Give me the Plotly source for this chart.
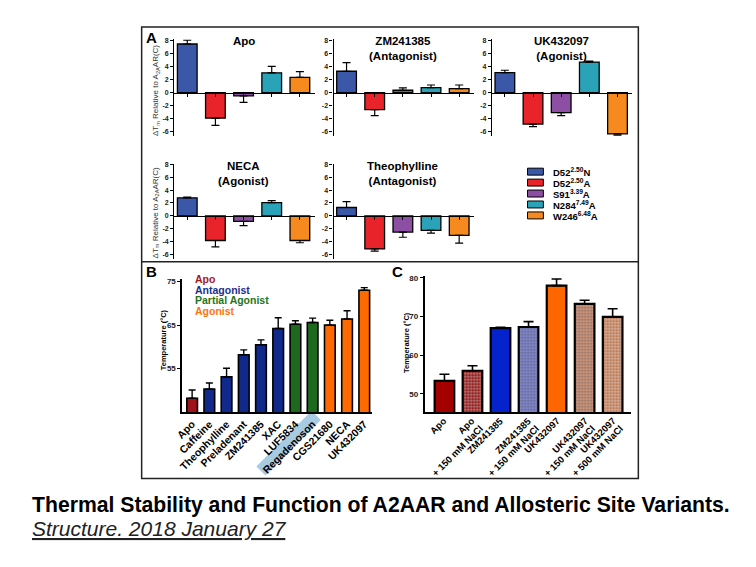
import plotly.graph_objects as go

W, H = 756, 567

# ---------------- data ----------------
mutants = ["D52<sup>2.50</sup>N", "D52<sup>2.50</sup>A", "S91<sup>3.39</sup>A",
           "N284<sup>7.49</sup>A", "W246<sup>6.48</sup>A"]
mutant_colors = ["#3B57A7", "#E8232A", "#8C4FA3", "#2AA3B8", "#F68A1F"]

a_titles = ["Apo", "ZM241385<br>(Antagonist)", "UK432097<br>(Agonist)",
            "NECA<br>(Agonist)", "Theophylline<br>(Antagonist)"]
apo_dtm = [7.4, -3.9, -0.5, 3.0, 2.3]
apo_err = [0.6, 1.1, 1.0, 1.0, 0.9]
zm_dtm = [3.25, -2.6, 0.35, 0.75, 0.6]
zm_err = [1.3, 0.9, 0.35, 0.4, 0.55]
uk_dtm = [3.05, -4.8, -3.05, 4.65, -6.3]
uk_err = [0.35, 0.4, 0.45, 0.15, 0.2]
neca_dtm = [2.8, -3.8, -0.85, 2.05, -3.8]
neca_err = [0.1, 1.0, 0.65, 0.3, 0.35]
theo_dtm = [1.3, -5.1, -2.5, -2.25, -3.0]
theo_err = [0.9, 0.35, 0.8, 0.4, 1.2]
a_ticks = [-6, -4, -2, 0, 2, 4, 6, 8]

b_ligands = ["Apo", "Caffeine", "Theophylline", "Preladenant", "ZM241385", "XAC",
             "LUF5834", "Regadenoson", "CGS21680", "NECA", "UK432097"]
b_class = ["Apo", "Antagonist", "Antagonist", "Antagonist", "Antagonist", "Antagonist",
           "Partial Agonist", "Partial Agonist", "Agonist", "Agonist", "Agonist"]
b_tm = [48.2, 50.3, 53.1, 58.2, 60.5, 64.2, 65.2, 65.6, 65.0, 66.4, 73.0]
b_err = [1.9, 1.4, 2.0, 1.1, 1.1, 2.5, 0.8, 1.0, 1.1, 1.9, 0.6]
class_names = ["Apo", "Antagonist", "Partial Agonist", "Agonist"]
class_colors = {"Apo": "#A0121A", "Antagonist": "#11298B",
                "Partial Agonist": "#1D6A1F", "Agonist": "#FF6A00"}
class_text_colors = {"Apo": "#A8151E", "Antagonist": "#1A2F8E",
                     "Partial Agonist": "#1F7420", "Agonist": "#FF7410"}
b_ticks = [55, 65, 75]
highlighted = "Regadenoson"

c_ligands = ["Apo", "Apo", "ZM241385", "ZM241385", "UK432097", "UK432097", "UK432097"]
c_salt = ["", "+ 150 mM NaCl", "", "+ 150 mM NaCl", "", "+ 150 mM NaCl", "+ 500 mM NaCl"]
c_tm = [53.4, 56.0, 67.0, 67.3, 78.0, 73.3, 69.9]
c_err = [1.7, 1.3, 0.2, 1.4, 1.7, 0.9, 2.1]
c_colors = ["#A30000", "#840404", "#0523CC", "#8890DE", "#FF6600", "#E0A084", "#B46E48"]
c_pattern_fg = ["", "#B81A1A", "", "#5C6BD0", "", "#CE8A6C", "#9A5838"]
c_ticks = [50, 60, 70, 80]

# ---------------- helpers ----------------
def xd(a, b):
    return [a / W, b / W]

def yd(top, bot):
    return [1 - bot / H, 1 - top / H]

def px(x):
    return x / W

def py(y):
    return 1 - y / H

FONT = "Liberation Sans, Arial, sans-serif"
fig = go.Figure()

# ---------------- panel A ----------------
a_vals = [apo_dtm, zm_dtm, uk_dtm, neca_dtm, theo_dtm]
a_errs = [apo_err, zm_err, uk_err, neca_err, theo_err]
a_xr = [-0.46, 4.53]
a_yr = [-6.6, 8.1]
col_x0 = [160, 321, 481]
col_w = 142
row_zero = [82, 206]
row_ppu = [6.6, 6.5]
cells = [(0, 0), (0, 1), (0, 2), (1, 0), (1, 1)]

layout_axes = {}
for p, (r, c) in enumerate(cells):
    k = p + 1
    xa = "x" if k == 1 else f"x{k}"
    ya = "y" if k == 1 else f"y{k}"
    vals, errs = a_vals[p], a_errs[p]
    up = [e if v >= 0 else 0 for v, e in zip(vals, errs)]
    dn = [e if v < 0 else 0 for v, e in zip(vals, errs)]
    fig.add_trace(go.Bar(
        x=list(range(len(mutants))), y=vals, xaxis=xa, yaxis=ya, width=0.7,
        marker=dict(color=mutant_colors, line=dict(color="black", width=1.3)),
        error_y=dict(type="data", array=up, arrayminus=dn, symmetric=False,
                     color="black", thickness=1.2, width=4),
        showlegend=False, hoverinfo="skip"))
    top = row_zero[r] - a_yr[1] * row_ppu[r]
    bot = row_zero[r] - a_yr[0] * row_ppu[r]
    x0 = col_x0[c]
    layout_axes["xaxis" if k == 1 else f"xaxis{k}"] = dict(
        domain=xd(x0, x0 + col_w), range=a_xr, anchor="free", position=py(row_zero[r]),
        showline=True, linecolor="black", linewidth=1.3, ticks="outside", ticklen=3,
        tickcolor="black", tickvals=list(range(5)), showticklabels=False,
        showgrid=False, zeroline=False, fixedrange=True)
    layout_axes["yaxis" if k == 1 else f"yaxis{k}"] = dict(
        domain=yd(top, bot), range=a_yr, anchor=xa, showline=True, linecolor="black",
        linewidth=1.3, ticks="outside", ticklen=3, tickcolor="black",
        tickvals=a_ticks, ticktext=[str(t) for t in a_ticks],
        tickfont=dict(size=7, family=FONT, weight="bold", color="#222"),
        showgrid=False, zeroline=False, fixedrange=True)

# ---------------- panel B ----------------
b_xr = [-0.575, 10.46]
b_yr = [45, 75.5]
b_x0, b_x1 = 168, 360
fig.add_trace(go.Bar(
    x=list(range(len(b_ligands))), y=b_tm, xaxis="x6", yaxis="y6", width=0.62,
    marker=dict(color=[class_colors[c] for c in b_class], line=dict(color="black", width=1.6)),
    error_y=dict(type="data", array=b_err, arrayminus=[0] * len(b_err), symmetric=False,
                 color="black", thickness=1.4, width=3.5),
    showlegend=False, hoverinfo="skip"))
layout_axes["xaxis6"] = dict(domain=xd(b_x0, b_x1), range=b_xr, anchor="y6", showline=True,
                             linecolor="black", linewidth=1.6, ticks="",
                             tickvals=list(range(len(b_ligands))), ticktext=b_ligands,
                             tickangle=-45,
                             tickfont=dict(size=10.5, family=FONT, weight="bold", color="black"),
                             showgrid=False, zeroline=False, fixedrange=True)
layout_axes["yaxis6"] = dict(domain=yd(269.8, 403.3), range=b_yr, anchor="x6", showline=True,
                             linecolor="black", linewidth=1.6, ticks="outside", ticklen=3,
                             tickcolor="black", tickvals=b_ticks,
                             tickfont=dict(size=8, family=FONT, weight="bold", color="#222"),
                             showgrid=False, zeroline=False, fixedrange=True)

# ---------------- panel C ----------------
c_xr = [-0.707, 6.67]
c_yr = [45.3, 80.4]
fig.add_trace(go.Bar(
    x=list(range(len(c_ligands))), y=c_tm, xaxis="x7", yaxis="y7", width=0.7,
    marker=dict(color=c_colors, line=dict(color="black", width=2.2),
                pattern=dict(shape=["" if f == "" else "." for f in c_pattern_fg],
                             fgcolor=[f if f else "#000" for f in c_pattern_fg],
                             size=3, solidity=0.5, fillmode="overlay")),
    error_y=dict(type="data", array=c_err, arrayminus=[0] * len(c_err), symmetric=False,
                 color="black", thickness=1.6, width=5),
    showlegend=False, hoverinfo="skip"))
layout_axes["xaxis7"] = dict(domain=xd(413, 622), range=c_xr, anchor="y7", showline=True,
                             linecolor="black", linewidth=1.6, ticks="", showticklabels=False,
                             tickvals=list(range(len(c_ligands))),
                             showgrid=False, zeroline=False, fixedrange=True)
layout_axes["yaxis7"] = dict(domain=yd(266.7, 403.3), range=c_yr, anchor="x7", showline=True,
                             linecolor="black", linewidth=1.6, ticks="outside", ticklen=3,
                             tickcolor="black", tickvals=c_ticks,
                             tickfont=dict(size=8, family=FONT, weight="bold", color="#222"),
                             showgrid=False, zeroline=False, fixedrange=True)

# ---------------- annotations ----------------
ann = []
shapes = []
# A titles
title_top = [22, 148]
for p, (r, c) in enumerate(cells):
    cx = col_x0[c] + (2 - a_xr[0]) * col_w / (a_xr[1] - a_xr[0])
    ann.append(dict(x=px(cx), y=py(title_top[r]), xref="paper", yref="paper",
                    xanchor="center", yanchor="top", showarrow=False, text=a_titles[p],
                    font=dict(size=11.5, family=FONT, weight="bold", color="black")))
# A y titles
for cy in [80, 203]:
    ann.append(dict(x=px(141), y=py(cy), xref="paper", yref="paper", textangle=-90,
                    showarrow=False, xanchor="center", yanchor="middle",
                    text="ΔT<sub>m</sub> Relative to A<sub>2A</sub>AR(C)",
                    font=dict(size=8, family=FONT, color="#333")))
# A legend (manual)
for i, (name, col) in enumerate(zip(mutants, mutant_colors)):
    cy = 161.5 + 11 * i
    shapes.append(dict(type="rect", xref="paper", yref="paper", x0=px(517), x1=px(533),
                       y0=py(cy + 3.5), y1=py(cy - 3.5), fillcolor=col,
                       line=dict(color="black", width=1)))
    ann.append(dict(x=px(541), y=py(cy + 0.5), xref="paper", yref="paper", xanchor="left",
                    yanchor="middle", showarrow=False, text=name,
                    font=dict(size=9.5, family=FONT, weight="bold", color="black")))
# B legend
for i, cl in enumerate(class_names):
    ann.append(dict(x=px(180), y=py(269 + 11 * i), xref="paper", yref="paper",
                    xanchor="left", yanchor="middle", showarrow=False, text=cl,
                    borderpad=0,
                    font=dict(size=10.5, family=FONT, weight="bold",
                              color=class_text_colors[cl])))
# highlight band behind the Regadenoson tick label (rotated rectangle)
hi = b_ligands.index(highlighted)
tick_px = b_x0 + (hi - b_xr[0]) * (b_x1 - b_x0) / (b_xr[1] - b_xr[0])
ex, ey = tick_px - 1, 402.0
u = (0.7071, -0.7071)
n = (0.7071, 0.7071)
band_w, band_len = 13.0, 79.0
pts = [(ex, ey), (ex + band_w * n[0], ey + band_w * n[1]),
       (ex + band_w * n[0] - band_len * u[0], ey + band_w * n[1] - band_len * u[1]),
       (ex - band_len * u[0], ey - band_len * u[1])]
path = "M " + " L ".join(f"{px(a):.5f},{py(b):.5f}" for a, b in pts) + " Z"
shapes.append(dict(type="path", xref="paper", yref="paper", path=path,
                   fillcolor="#A7CBE2", line=dict(width=0), layer="below"))
# C category labels: first line at the tick, salt line one line lower (perpendicular)
line_gap = 11.5
s1 = 6
for i, (lig, salt) in enumerate(zip(c_ligands, c_salt)):
    ann.append(dict(x=i, xref="x7", y=py(405), yref="paper", xanchor="right",
                    yanchor="top", textangle=-45, showarrow=False, text=lig,
                    xshift=s1, borderpad=0,
                    font=dict(size=9.5, family=FONT, weight="bold", color="black")))
    if salt:
        ann.append(dict(x=i, xref="x7", y=py(405), yref="paper", xanchor="right",
                        yanchor="top", textangle=-45, showarrow=False, text=salt,
                        xshift=s1 + 0.7071 * line_gap, yshift=-0.7071 * line_gap,
                        borderpad=0,
                        font=dict(size=9.5, family=FONT, weight="bold", color="black")))
# temperature axis titles
ann.append(dict(x=px(142), y=py(330), xref="paper", yref="paper", textangle=-90,
                showarrow=False, text="Temperature (°C)",
                font=dict(size=7.5, family=FONT, weight="bold", color="black")))
ann.append(dict(x=px(394), y=py(333), xref="paper", yref="paper", textangle=-90,
                showarrow=False, text="Temperature (°C)",
                font=dict(size=7.5, family=FONT, weight="bold", color="black")))
# panel letters
for letter, lx, ly in [("A", 137, 27), ("B", 137, 262), ("C", 386, 262)]:
    ann.append(dict(x=px(lx), y=py(ly), xref="paper", yref="paper", showarrow=False,
                    xanchor="center", yanchor="middle", text=letter,
                    font=dict(size=15, family=FONT, weight="bold", color="black")))
# caption
CAP = "Liberation Sans Narrow, Arial Narrow, Liberation Sans, sans-serif"
ann.append(dict(x=px(14), y=py(497), xref="paper", yref="paper", xanchor="left",
                yanchor="middle", showarrow=False,
                text="Thermal Stability and Function of A2AAR and Allosteric Site Variants.",
                font=dict(size=21.2, family=CAP, weight="bold", color="black")))
ann.append(dict(x=px(14), y=py(520), xref="paper", yref="paper", xanchor="left",
                yanchor="middle", showarrow=False,
                text="<i><u>Structure. 2018 January 27</u></i>",
                font=dict(size=21, family=CAP, color="#222")))

# frame
shapes.append(dict(type="rect", xref="paper", yref="paper", x0=px(127), x1=px(629),
                   y0=py(470), y1=py(16), line=dict(color="#222", width=1.5)))
shapes.append(dict(type="line", xref="paper", yref="paper", x0=px(127), x1=px(629),
                   y0=py(252), y1=py(252), line=dict(color="#222", width=1.5)))

fig.update_layout(
    width=W, height=H, margin=dict(l=0, r=0, t=0, b=0),
    paper_bgcolor="white", plot_bgcolor="rgba(0,0,0,0)",
    barmode="overlay", showlegend=False,
    font=dict(family=FONT, color="black"),
    annotations=ann, shapes=shapes, **layout_axes)

fig.write_html("out.html")
